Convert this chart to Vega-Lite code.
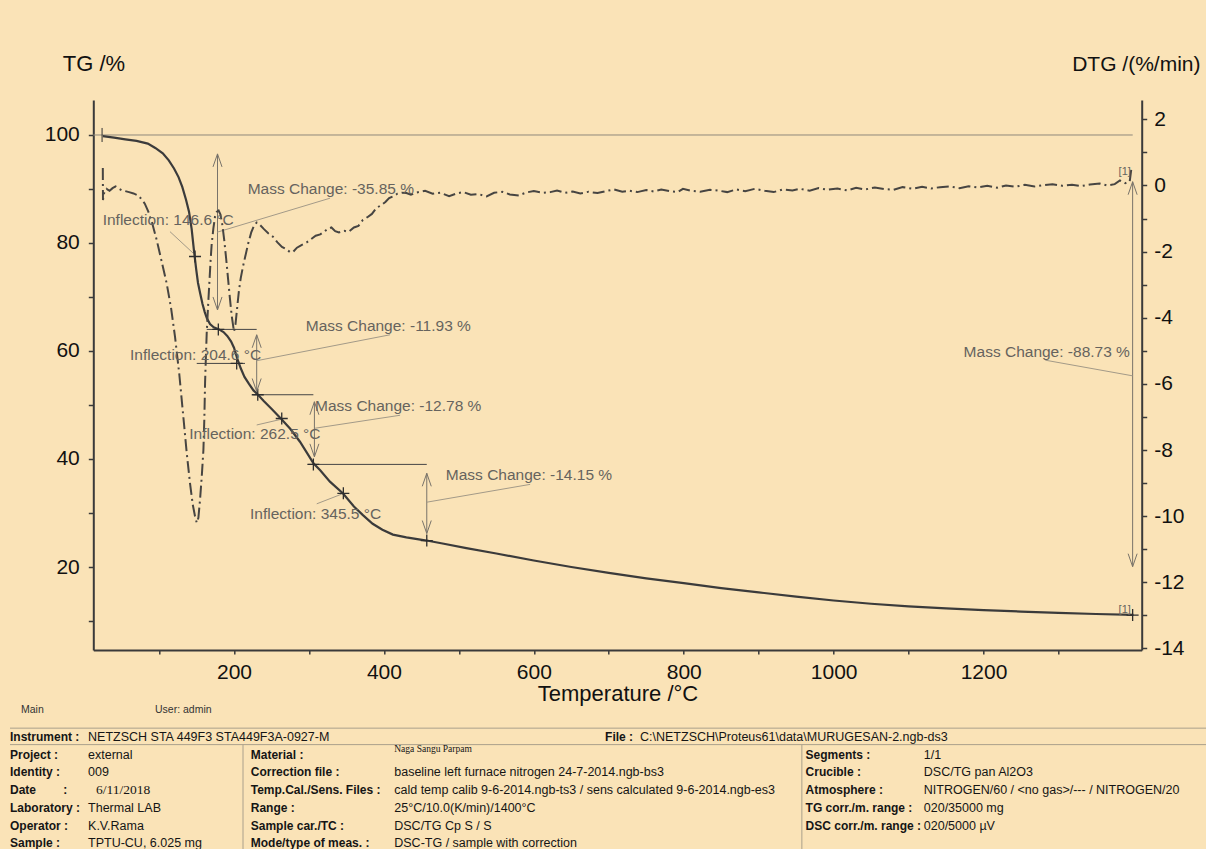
{
  "$schema": "https://vega.github.io/schema/vega-lite/v6.json",
  "width": 1048.4,
  "height": 550,
  "autosize": {"type": "none"},
  "padding": {"left": 93.3, "top": 100, "right": 64.3, "bottom": 199},
  "background": "#FAE3B7",
  "config": {
    "view": {"stroke": null},
    "font": "Liberation Sans",
    "axis": {"grid": false, "labelFont": "Liberation Sans", "titleFont": "Liberation Sans", "titleFontWeight": "normal", "labelColor": "#111111", "titleColor": "#111111", "domainColor": "#3a3a3a", "tickColor": "#3a3a3a", "domainWidth": 2, "tickWidth": 1.5, "labelOverlap": false, "labelFlush": false}
  },
  "datasets": {
    "tg": [
      {"T": 25, "TG": 99.8}, {"T": 40, "TG": 99.5}, {"T": 55, "TG": 99.2}, {"T": 70, "TG": 98.9}, {"T": 85, "TG": 98.4},
      {"T": 95, "TG": 97.6}, {"T": 105, "TG": 96.6}, {"T": 113, "TG": 95.3}, {"T": 120, "TG": 93.8}, {"T": 126, "TG": 92.2},
      {"T": 131, "TG": 90.4}, {"T": 136, "TG": 88.0}, {"T": 140, "TG": 85.8}, {"T": 143.5, "TG": 82.6}, {"T": 146.6, "TG": 78.6},
      {"T": 149.5, "TG": 75.2}, {"T": 152, "TG": 72.6}, {"T": 155, "TG": 70.6}, {"T": 158, "TG": 68.7}, {"T": 161, "TG": 67.2},
      {"T": 164, "TG": 66.0}, {"T": 168, "TG": 65.0}, {"T": 173, "TG": 64.4}, {"T": 180, "TG": 64.0}, {"T": 186, "TG": 63.5},
      {"T": 191, "TG": 62.8}, {"T": 196, "TG": 61.8}, {"T": 200, "TG": 60.6}, {"T": 204.6, "TG": 58.5}, {"T": 209, "TG": 56.8},
      {"T": 214, "TG": 55.2}, {"T": 220, "TG": 53.9}, {"T": 226, "TG": 52.7}, {"T": 232, "TG": 51.9}, {"T": 240, "TG": 50.7},
      {"T": 250, "TG": 49.3}, {"T": 262.5, "TG": 47.5}, {"T": 275, "TG": 45.6}, {"T": 288, "TG": 43.2}, {"T": 298, "TG": 41.0},
      {"T": 306, "TG": 39.2}, {"T": 315, "TG": 37.9}, {"T": 328, "TG": 35.8}, {"T": 345.5, "TG": 33.6}, {"T": 360, "TG": 31.2},
      {"T": 372, "TG": 29.6}, {"T": 385, "TG": 28.0}, {"T": 398, "TG": 26.9}, {"T": 412, "TG": 26.0}, {"T": 430, "TG": 25.5},
      {"T": 457, "TG": 24.9}, {"T": 480, "TG": 24.3}, {"T": 510, "TG": 23.5}, {"T": 550, "TG": 22.5}, {"T": 600, "TG": 21.2},
      {"T": 650, "TG": 20.0}, {"T": 700, "TG": 18.9}, {"T": 750, "TG": 17.9}, {"T": 800, "TG": 17.0}, {"T": 850, "TG": 16.1},
      {"T": 900, "TG": 15.3}, {"T": 950, "TG": 14.5}, {"T": 1000, "TG": 13.8}, {"T": 1050, "TG": 13.2}, {"T": 1100, "TG": 12.7},
      {"T": 1150, "TG": 12.35}, {"T": 1200, "TG": 12.0}, {"T": 1250, "TG": 11.75}, {"T": 1300, "TG": 11.5}, {"T": 1350, "TG": 11.3},
      {"T": 1400, "TG": 11.15}
    ],
    "dtg": [
      {"T": 25, "D": 0.53}, {"T": 25.2, "D": -0.44}, {"T": 27, "D": -0.2}, {"T": 30, "D": -0.1}, {"T": 34, "D": -0.16},
      {"T": 38, "D": -0.08}, {"T": 42, "D": -0.03}, {"T": 46, "D": -0.09}, {"T": 50, "D": -0.14}, {"T": 55, "D": -0.17},
      {"T": 60, "D": -0.2}, {"T": 66, "D": -0.24}, {"T": 72, "D": -0.3}, {"T": 77, "D": -0.42}, {"T": 81, "D": -0.55},
      {"T": 85.7, "D": -0.79}, {"T": 91, "D": -1.15}, {"T": 96.9, "D": -1.65}, {"T": 103, "D": -2.25}, {"T": 110.2, "D": -2.96},
      {"T": 116, "D": -3.7}, {"T": 121.3, "D": -4.57}, {"T": 127, "D": -5.7}, {"T": 132.4, "D": -6.99}, {"T": 137, "D": -8.1},
      {"T": 141.3, "D": -9.0}, {"T": 145, "D": -9.65}, {"T": 148, "D": -10.0}, {"T": 150.3, "D": -10.2}, {"T": 152.5, "D": -10.05},
      {"T": 154.7, "D": -9.5}, {"T": 157, "D": -8.8}, {"T": 159.2, "D": -8.0}, {"T": 160.5, "D": -7.0}, {"T": 161.4, "D": -5.98},
      {"T": 162.5, "D": -5.2}, {"T": 163.6, "D": -4.47}, {"T": 165.3, "D": -3.7}, {"T": 167.1, "D": -2.96}, {"T": 168.7, "D": -2.3},
      {"T": 170.3, "D": -1.75}, {"T": 172.5, "D": -1.3}, {"T": 174.7, "D": -0.94}, {"T": 177, "D": -0.8}, {"T": 179.5, "D": -0.76},
      {"T": 182, "D": -0.88}, {"T": 184.5, "D": -1.2}, {"T": 187, "D": -1.65}, {"T": 189.5, "D": -2.2}, {"T": 192, "D": -2.8},
      {"T": 194.5, "D": -3.4}, {"T": 197, "D": -3.95}, {"T": 200, "D": -4.42}, {"T": 202, "D": -4.2}, {"T": 204, "D": -3.75},
      {"T": 206.5, "D": -3.2}, {"T": 209, "D": -2.8}, {"T": 212, "D": -2.45}, {"T": 215, "D": -2.15}, {"T": 219, "D": -1.75},
      {"T": 223, "D": -1.42}, {"T": 227, "D": -1.2}, {"T": 230.3, "D": -1.12}, {"T": 235, "D": -1.2}, {"T": 240, "D": -1.32},
      {"T": 246, "D": -1.45}, {"T": 252, "D": -1.55}, {"T": 258, "D": -1.72}, {"T": 264, "D": -1.86}, {"T": 270, "D": -1.93},
      {"T": 275, "D": -2.02}, {"T": 279.2, "D": -2.0}, {"T": 284, "D": -1.88}, {"T": 290, "D": -1.8}, {"T": 297, "D": -1.72},
      {"T": 303, "D": -1.62}, {"T": 309, "D": -1.52}, {"T": 315, "D": -1.48}, {"T": 320, "D": -1.4}, {"T": 326, "D": -1.3},
      {"T": 330, "D": -1.27}, {"T": 335, "D": -1.38}, {"T": 340, "D": -1.42}, {"T": 347, "D": -1.37}, {"T": 353, "D": -1.4},
      {"T": 360, "D": -1.27}, {"T": 366, "D": -1.22}, {"T": 372, "D": -1.04}, {"T": 378, "D": -0.96}, {"T": 384, "D": -0.86},
      {"T": 390, "D": -0.68}, {"T": 396, "D": -0.6}, {"T": 402, "D": -0.5}, {"T": 407, "D": -0.38}, {"T": 413, "D": -0.32},
      {"T": 418, "D": -0.25}, {"T": 424, "D": -0.22}, {"T": 430, "D": -0.23}, {"T": 436, "D": -0.28}, {"T": 444, "D": -0.21},
      {"T": 455, "D": -0.16}, {"T": 465, "D": -0.25}, {"T": 475, "D": -0.22}, {"T": 487, "D": -0.32}, {"T": 497, "D": -0.24},
      {"T": 506, "D": -0.2}, {"T": 516, "D": -0.28}, {"T": 526, "D": -0.26}, {"T": 537, "D": -0.33}, {"T": 547, "D": -0.22},
      {"T": 558, "D": -0.19}, {"T": 568, "D": -0.27}, {"T": 580, "D": -0.3}, {"T": 590, "D": -0.21}, {"T": 600, "D": -0.17},
      {"T": 612, "D": -0.22}, {"T": 622, "D": -0.2}, {"T": 631, "D": -0.15}, {"T": 642, "D": -0.22}, {"T": 652, "D": -0.18},
      {"T": 662, "D": -0.24}, {"T": 673, "D": -0.19}, {"T": 685, "D": -0.23}, {"T": 696, "D": -0.17}, {"T": 707, "D": -0.12},
      {"T": 718, "D": -0.19}, {"T": 728, "D": -0.16}, {"T": 738, "D": -0.2}, {"T": 750, "D": -0.14}, {"T": 760, "D": -0.18},
      {"T": 770, "D": -0.12}, {"T": 781, "D": -0.17}, {"T": 792, "D": -0.2}, {"T": 799, "D": -0.1}, {"T": 810, "D": -0.16},
      {"T": 822, "D": -0.19}, {"T": 835, "D": -0.13}, {"T": 845, "D": -0.15}, {"T": 858, "D": -0.2}, {"T": 870, "D": -0.12},
      {"T": 882, "D": -0.17}, {"T": 895, "D": -0.1}, {"T": 908, "D": -0.16}, {"T": 920, "D": -0.2}, {"T": 932, "D": -0.12},
      {"T": 945, "D": -0.15}, {"T": 955, "D": -0.1}, {"T": 968, "D": -0.16}, {"T": 980, "D": -0.08}, {"T": 992, "D": -0.13},
      {"T": 1005, "D": -0.09}, {"T": 1018, "D": -0.15}, {"T": 1030, "D": -0.07}, {"T": 1042, "D": -0.12}, {"T": 1055, "D": -0.06},
      {"T": 1068, "D": -0.11}, {"T": 1080, "D": -0.13}, {"T": 1092, "D": -0.05}, {"T": 1105, "D": -0.1}, {"T": 1118, "D": -0.04},
      {"T": 1130, "D": -0.09}, {"T": 1142, "D": -0.05}, {"T": 1155, "D": -0.03}, {"T": 1168, "D": -0.08}, {"T": 1180, "D": -0.02},
      {"T": 1192, "D": -0.06}, {"T": 1205, "D": -0.01}, {"T": 1218, "D": -0.07}, {"T": 1230, "D": 0.0}, {"T": 1242, "D": -0.04},
      {"T": 1255, "D": 0.02}, {"T": 1268, "D": -0.03}, {"T": 1280, "D": 0.01}, {"T": 1292, "D": 0.04}, {"T": 1305, "D": -0.01},
      {"T": 1318, "D": 0.02}, {"T": 1330, "D": -0.02}, {"T": 1342, "D": 0.03}, {"T": 1355, "D": 0.06}, {"T": 1365, "D": 0.0},
      {"T": 1375, "D": 0.04}, {"T": 1382, "D": 0.15}, {"T": 1389, "D": 0.07}, {"T": 1395, "D": 0.12}, {"T": 1397, "D": 0.47}
    ],
    "rules": [
      {"T": 12.3, "TG": 100, "T2": 1399, "TG2": 100, "kind": "base"},
      {"T": 24, "TG": 101.3, "T2": 24, "TG2": 98.7, "kind": "tick"},
      {"T": 178, "TG": 96.5, "T2": 178, "TG2": 67.6, "kind": "arrow"},
      {"T": 177.5, "TG": 82.0, "T2": 328.2, "TG2": 88.3, "kind": "leader"},
      {"T": 163.6, "TG": 64.0, "T2": 230.3, "TG2": 64.0, "kind": "level"},
      {"T": 230.3, "TG": 63.0, "T2": 230.3, "TG2": 52.5, "kind": "arrow"},
      {"T": 230.3, "TG": 58.2, "T2": 408.2, "TG2": 63.0, "kind": "leader"},
      {"T": 225.8, "TG": 51.9, "T2": 305.9, "TG2": 51.9, "kind": "level"},
      {"T": 307.3, "TG": 50.6, "T2": 307.3, "TG2": 40.4, "kind": "arrow"},
      {"T": 308.2, "TG": 45.7, "T2": 421.6, "TG2": 48.1, "kind": "leader"},
      {"T": 299, "TG": 39.0, "T2": 457.2, "TG2": 39.0, "kind": "level"},
      {"T": 457.2, "TG": 37.35, "T2": 457.2, "TG2": 26.2, "kind": "arrow"},
      {"T": 457.2, "TG": 32.0, "T2": 595.1, "TG2": 35.3, "kind": "leader"},
      {"T": 1398.9, "TG": 91.35, "T2": 1398.9, "TG2": 20.06, "kind": "arrow"},
      {"T": 1398.9, "TG": 55.4, "T2": 1282.4, "TG2": 58.3, "kind": "leader"},
      {"T": 114.6, "TG": 82.1, "T2": 145.7, "TG2": 78.1, "kind": "leader"},
      {"T": 150.3, "TG": 57.7, "T2": 214.7, "TG2": 57.7, "kind": "level"},
      {"T": 230.3, "TG": 46.3, "T2": 261.4, "TG2": 47.3, "kind": "leader"},
      {"T": 310.4, "TG": 31.7, "T2": 343.8, "TG2": 33.5, "kind": "leader"}
    ],
    "crosses": [
      {"T": 148, "TG": 77.5}, {"T": 203.6, "TG": 57.7}, {"T": 263.7, "TG": 47.5}, {"T": 345.9, "TG": 33.65},
      {"T": 179.1, "TG": 64.0}, {"T": 231.7, "TG": 51.9}, {"T": 305.9, "TG": 39.0}, {"T": 457.2, "TG": 24.9},
      {"T": 1398.9, "TG": 11.1}
    ],
    "arrows": [
      {"T": 178, "TG": 96.5, "dir": "up"}, {"T": 178, "TG": 67.6, "dir": "down"},
      {"T": 230.3, "TG": 63.0, "dir": "up"}, {"T": 230.3, "TG": 52.5, "dir": "down"},
      {"T": 307.3, "TG": 50.6, "dir": "up"}, {"T": 307.3, "TG": 40.4, "dir": "down"},
      {"T": 457.2, "TG": 37.35, "dir": "up"}, {"T": 457.2, "TG": 26.2, "dir": "down"},
      {"T": 1398.9, "TG": 91.35, "dir": "up"}, {"T": 1398.9, "TG": 20.06, "dir": "down"}
    ],
    "labels": [
      {"T": 24.8, "TG": 83.3, "text": "Inflection: 146.6 °C"},
      {"T": 61.3, "TG": 58.3, "text": "Inflection: 204.6 °C"},
      {"T": 140.4, "TG": 43.65, "text": "Inflection: 262.5 °C"},
      {"T": 221.4, "TG": 28.9, "text": "Inflection: 345.5 °C"},
      {"T": 218.3, "TG": 89.1, "text": "Mass Change: -35.85 %"},
      {"T": 295.7, "TG": 63.7, "text": "Mass Change: -11.93 %"},
      {"T": 308.2, "TG": 48.9, "text": "Mass Change: -12.78 %"},
      {"T": 482.6, "TG": 36.1, "text": "Mass Change: -14.15 %"},
      {"T": 1173.4, "TG": 58.9, "text": "Mass Change: -88.73 %"}
    ],
    "segs": [
      {"T": 1380.2, "TG": 92.6, "text": "[1]"},
      {"T": 1380.2, "TG": 11.5, "text": "[1]"}
    ],
    "footer": [
      {"x": 1.74, "row": -1.53, "text": "Main", "role": "meta"},
      {"x": 12.85, "row": -1.53, "text": "User: admin", "role": "meta"},
      {"x": 0.83, "row": 0, "text": "Instrument :", "role": "label"},
      {"x": 7.3, "row": 0, "text": "NETZSCH STA 449F3 STA449F3A-0927-M", "role": "value"},
      {"x": 50.17, "row": 0, "text": "File :", "role": "label"},
      {"x": 53.07, "row": 0, "text": "C:\\NETZSCH\\Proteus61\\data\\MURUGESAN-2.ngb-ds3", "role": "value"},
      {"x": 0.83, "row": 1, "text": "Project :", "role": "label"},
      {"x": 0.83, "row": 2, "text": "Identity :", "role": "label"},
      {"x": 0.83, "row": 3, "text": "Date", "role": "label"},
      {"x": 5.24, "row": 3, "text": ":", "role": "label"},
      {"x": 0.83, "row": 4, "text": "Laboratory :", "role": "label"},
      {"x": 0.83, "row": 5, "text": "Operator :", "role": "label"},
      {"x": 0.83, "row": 6, "text": "Sample :", "role": "label"},
      {"x": 7.3, "row": 1, "text": "external", "role": "value"},
      {"x": 7.3, "row": 2, "text": "009", "role": "value"},
      {"x": 7.96, "row": 3, "text": "6/11/2018", "role": "serif"},
      {"x": 7.3, "row": 4, "text": "Thermal LAB", "role": "value"},
      {"x": 7.3, "row": 5, "text": "K.V.Rama", "role": "value"},
      {"x": 7.3, "row": 6, "text": "TPTU-CU, 6.025 mg", "role": "value"},
      {"x": 20.79, "row": 1, "text": "Material :", "role": "label"},
      {"x": 20.79, "row": 2, "text": "Correction file :", "role": "label"},
      {"x": 20.79, "row": 3, "text": "Temp.Cal./Sens. Files :", "role": "label"},
      {"x": 20.79, "row": 4, "text": "Range :", "role": "label"},
      {"x": 20.79, "row": 5, "text": "Sample car./TC :", "role": "label"},
      {"x": 20.79, "row": 6, "text": "Mode/type of meas. :", "role": "label"},
      {"x": 32.69, "row": 0.68, "text": "Naga Sangu Parpam", "role": "small"},
      {"x": 32.69, "row": 2, "text": "baseline left furnace nitrogen 24-7-2014.ngb-bs3", "role": "value"},
      {"x": 32.69, "row": 3, "text": "cald temp calib 9-6-2014.ngb-ts3 / sens calculated 9-6-2014.ngb-es3", "role": "value"},
      {"x": 32.69, "row": 4, "text": "25°C/10.0(K/min)/1400°C", "role": "value"},
      {"x": 32.69, "row": 5, "text": "DSC/TG Cp S / S", "role": "value"},
      {"x": 32.69, "row": 6, "text": "DSC-TG / sample with correction", "role": "value"},
      {"x": 66.8, "row": 1, "text": "Segments :", "role": "label"},
      {"x": 66.8, "row": 2, "text": "Crucible :", "role": "label"},
      {"x": 66.8, "row": 3, "text": "Atmosphere :", "role": "label"},
      {"x": 66.8, "row": 4, "text": "TG corr./m. range :", "role": "label"},
      {"x": 66.8, "row": 5, "text": "DSC corr./m. range :", "role": "label"},
      {"x": 76.6, "row": 1, "text": "1/1", "role": "value"},
      {"x": 76.6, "row": 2, "text": "DSC/TG pan Al2O3", "role": "value"},
      {"x": 76.6, "row": 3, "text": "NITROGEN/60 / <no gas>/--- / NITROGEN/20", "role": "value"},
      {"x": 76.6, "row": 4, "text": "020/35000 mg", "role": "value"},
      {"x": 76.6, "row": 5, "text": "020/5000 µV", "role": "value"}
    ],
    "footerLines": [
      {"x": 0.83, "x2": 100, "row": -0.5, "row2": -0.5},
      {"x": 0.83, "x2": 100, "row": 0.43, "row2": 0.43},
      {"x": 20.15, "x2": 20.15, "row": 0.43, "row2": 6.5},
      {"x": 66.49, "x2": 66.49, "row": 0.43, "row2": 6.5}
    ]
  },
  "layer": [
    {
      "data": {"name": "rules"},
      "mark": {"type": "rule", "strokeWidth": 1},
      "encoding": {
        "x": {"field": "T", "type": "quantitative", "scale": {"domain": [12.3, 1411], "nice": false, "zero": false}, "axis": null},
        "y": {"field": "TG", "type": "quantitative", "scale": {"domain": [4.63, 106.48], "nice": false, "zero": false}, "axis": null},
        "x2": {"field": "T2"},
        "y2": {"field": "TG2"},
        "color": {"field": "kind", "type": "nominal", "legend": null, "scale": {"domain": ["base", "leader", "arrow", "level", "tick"], "range": ["#8f897c", "#a39a88", "#78736a", "#454545", "#333333"]}}
      }
    },
    {
      "data": {"name": "tg"},
      "mark": {"type": "line", "color": "#3b3b3b", "strokeWidth": 2.2},
      "encoding": {
        "x": {"field": "T", "type": "quantitative", "scale": {"domain": [12.3, 1411], "nice": false, "zero": false},
          "axis": {"values": [100, 200, 300, 400, 500, 600, 700, 800, 900, 1000, 1100, 1200, 1300], "labelExpr": "datum.value % 200 == 0 ? '' + datum.value : ''", "tickSize": 4, "labelFontSize": 21, "labelPadding": 7, "title": "Temperature /°C", "titleFontSize": 22, "titleY": 50, "titleBaseline": "alphabetic", "titleX": 524.2}},
        "y": {"field": "TG", "type": "quantitative", "scale": {"domain": [4.63, 106.48], "nice": false, "zero": false},
          "axis": {"orient": "left", "values": [10, 20, 30, 40, 50, 60, 70, 80, 90, 100], "labelExpr": "datum.value % 20 == 0 ? '' + datum.value : ''", "tickSize": 5, "labelFontSize": 21, "labelPadding": 9, "title": "TG /%", "titleFontSize": 22, "titleAngle": 0, "titleX": -31, "titleY": -30, "titleAlign": "left", "titleBaseline": "alphabetic"}}
      }
    },
    {
      "data": {"name": "dtg"},
      "mark": {"type": "line", "color": "#474542", "strokeWidth": 2, "strokeDash": [12, 4, 2, 4]},
      "encoding": {
        "x": {"field": "T", "type": "quantitative", "scale": {"domain": [12.3, 1411], "nice": false, "zero": false}, "axis": null},
        "y": {"field": "D", "type": "quantitative", "scale": {"domain": [-14.046, 2.585], "nice": false, "zero": false},
          "axis": {"orient": "right", "values": [-14, -13, -12, -11, -10, -9, -8, -7, -6, -5, -4, -3, -2, -1, 0, 1, 2], "labelExpr": "datum.value % 2 == 0 ? (datum.value < 0 ? '-' + abs(datum.value) : '' + datum.value) : ''", "tickSize": 5, "labelFontSize": 21, "labelPadding": 7, "title": "DTG /(%/min)", "titleFontSize": 21, "titleAngle": 0, "titleX": -70, "titleY": -30, "titleAlign": "left", "titleBaseline": "alphabetic"}}
      }
    },
    {
      "data": {"name": "crosses"},
      "mark": {"type": "point", "shape": "M-1,0L1,0M0,-1L0,1", "size": 144, "filled": false, "stroke": "#2e2e2e", "strokeWidth": 1.3, "opacity": 1},
      "encoding": {
        "x": {"field": "T", "type": "quantitative", "scale": {"domain": [12.3, 1411], "nice": false, "zero": false}, "axis": null},
        "y": {"field": "TG", "type": "quantitative", "scale": {"domain": [4.63, 106.48], "nice": false, "zero": false}, "axis": null}
      }
    },
    {
      "data": {"name": "arrows"},
      "mark": {"type": "point", "size": 400, "filled": false, "stroke": "#78736a", "strokeWidth": 1, "opacity": 1},
      "encoding": {
        "x": {"field": "T", "type": "quantitative", "scale": {"domain": [12.3, 1411], "nice": false, "zero": false}, "axis": null},
        "y": {"field": "TG", "type": "quantitative", "scale": {"domain": [4.63, 106.48], "nice": false, "zero": false}, "axis": null},
        "shape": {"field": "dir", "type": "nominal", "legend": null, "scale": {"domain": ["up", "down"], "range": ["M-0.45,1.3L0,0L0.45,1.3", "M-0.45,-1.3L0,0L0.45,-1.3"]}}
      }
    },
    {
      "data": {"name": "labels"},
      "mark": {"type": "text", "align": "left", "baseline": "alphabetic", "fontSize": 15.5, "font": "Liberation Sans", "color": "#66635e"},
      "encoding": {
        "x": {"field": "T", "type": "quantitative", "scale": {"domain": [12.3, 1411], "nice": false, "zero": false}, "axis": null},
        "y": {"field": "TG", "type": "quantitative", "scale": {"domain": [4.63, 106.48], "nice": false, "zero": false}, "axis": null},
        "text": {"field": "text"}
      }
    },
    {
      "data": {"name": "segs"},
      "mark": {"type": "text", "align": "left", "baseline": "alphabetic", "fontSize": 11, "font": "Liberation Sans", "color": "#66635e"},
      "encoding": {
        "x": {"field": "T", "type": "quantitative", "scale": {"domain": [12.3, 1411], "nice": false, "zero": false}, "axis": null},
        "y": {"field": "TG", "type": "quantitative", "scale": {"domain": [4.63, 106.48], "nice": false, "zero": false}, "axis": null},
        "text": {"field": "text"}
      }
    },
    {
      "data": {"name": "footerLines"},
      "mark": {"type": "rule", "color": "#aaa08c", "strokeWidth": 1},
      "encoding": {
        "x": {"field": "x", "type": "quantitative", "scale": {"domain": [0, 100], "range": [-93.3, 1112.7], "nice": false, "zero": false}, "axis": null},
        "y": {"field": "row", "type": "quantitative", "scale": {"domain": [0, 6], "range": [637, 743.2], "nice": false, "zero": false}, "axis": null},
        "x2": {"field": "x2"},
        "y2": {"field": "row2"}
      }
    },
    {
      "data": {"name": "footer"},
      "transform": [{"filter": "datum.role == 'label'"}],
      "mark": {"type": "text", "align": "left", "baseline": "middle", "fontSize": 12, "fontWeight": "bold", "font": "Liberation Sans", "color": "#151515"},
      "encoding": {
        "x": {"field": "x", "type": "quantitative", "scale": {"domain": [0, 100], "range": [-93.3, 1112.7], "nice": false, "zero": false}, "axis": null},
        "y": {"field": "row", "type": "quantitative", "scale": {"domain": [0, 6], "range": [637, 743.2], "nice": false, "zero": false}, "axis": null},
        "text": {"field": "text"}
      }
    },
    {
      "data": {"name": "footer"},
      "transform": [{"filter": "datum.role == 'value'"}],
      "mark": {"type": "text", "align": "left", "baseline": "middle", "fontSize": 12.5, "font": "Liberation Sans", "color": "#151515"},
      "encoding": {
        "x": {"field": "x", "type": "quantitative", "scale": {"domain": [0, 100], "range": [-93.3, 1112.7], "nice": false, "zero": false}, "axis": null},
        "y": {"field": "row", "type": "quantitative", "scale": {"domain": [0, 6], "range": [637, 743.2], "nice": false, "zero": false}, "axis": null},
        "text": {"field": "text"}
      }
    },
    {
      "data": {"name": "footer"},
      "transform": [{"filter": "datum.role == 'serif'"}],
      "mark": {"type": "text", "align": "left", "baseline": "middle", "fontSize": 13.5, "font": "Liberation Serif", "color": "#151515"},
      "encoding": {
        "x": {"field": "x", "type": "quantitative", "scale": {"domain": [0, 100], "range": [-93.3, 1112.7], "nice": false, "zero": false}, "axis": null},
        "y": {"field": "row", "type": "quantitative", "scale": {"domain": [0, 6], "range": [637, 743.2], "nice": false, "zero": false}, "axis": null},
        "text": {"field": "text"}
      }
    },
    {
      "data": {"name": "footer"},
      "transform": [{"filter": "datum.role == 'small'"}],
      "mark": {"type": "text", "align": "left", "baseline": "middle", "fontSize": 9.5, "font": "Liberation Serif", "color": "#151515"},
      "encoding": {
        "x": {"field": "x", "type": "quantitative", "scale": {"domain": [0, 100], "range": [-93.3, 1112.7], "nice": false, "zero": false}, "axis": null},
        "y": {"field": "row", "type": "quantitative", "scale": {"domain": [0, 6], "range": [637, 743.2], "nice": false, "zero": false}, "axis": null},
        "text": {"field": "text"}
      }
    },
    {
      "data": {"name": "footer"},
      "transform": [{"filter": "datum.role == 'meta'"}],
      "mark": {"type": "text", "align": "left", "baseline": "middle", "fontSize": 10.5, "font": "Liberation Sans", "color": "#333333"},
      "encoding": {
        "x": {"field": "x", "type": "quantitative", "scale": {"domain": [0, 100], "range": [-93.3, 1112.7], "nice": false, "zero": false}, "axis": null},
        "y": {"field": "row", "type": "quantitative", "scale": {"domain": [0, 6], "range": [637, 743.2], "nice": false, "zero": false}, "axis": null},
        "text": {"field": "text"}
      }
    }
  ],
  "resolve": {"scale": {"x": "independent", "y": "independent", "color": "independent", "shape": "independent"}}
}
